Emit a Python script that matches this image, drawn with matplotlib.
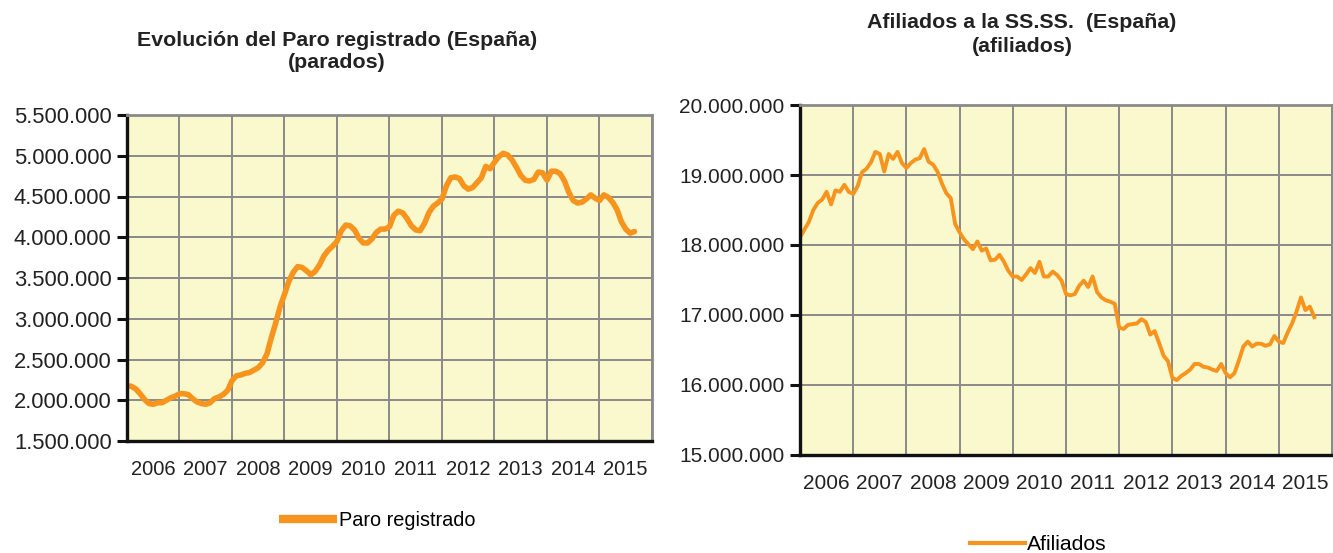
import matplotlib
matplotlib.use("Agg")
import matplotlib.pyplot as plt
from matplotlib.ticker import FuncFormatter, MultipleLocator, FixedLocator
import numpy as np

plt.rcParams['font.family'] = ['Liberation Sans', 'DejaVu Sans']

# ---- Data (monthly, Jan 2006 .. Sep 2015) ----
start_year = 2006
year_labels = ['2006', '2007', '2008', '2009', '2010', '2011', '2012', '2013', '2014', '2015']

# Paro registrado (millions)
paro_2006 = [2.18, 2.17, 2.14, 2.08, 2.01, 1.96, 1.95, 1.97, 1.97, 2.00, 2.03, 2.05]
paro_2007 = [2.08, 2.08, 2.07, 2.02, 1.98, 1.96, 1.95, 1.97, 2.02, 2.04, 2.07, 2.12]
paro_2008 = [2.24, 2.30, 2.31, 2.33, 2.34, 2.37, 2.40, 2.46, 2.57, 2.77, 2.95, 3.15]
paro_2009 = [3.30, 3.46, 3.57, 3.64, 3.63, 3.59, 3.54, 3.58, 3.66, 3.77, 3.84, 3.89]
paro_2010 = [3.95, 4.08, 4.15, 4.14, 4.09, 3.99, 3.93, 3.93, 3.98, 4.06, 4.10, 4.10]
paro_2011 = [4.13, 4.27, 4.32, 4.30, 4.23, 4.14, 4.09, 4.08, 4.17, 4.30, 4.38, 4.42]
paro_2012 = [4.47, 4.63, 4.73, 4.74, 4.72, 4.63, 4.59, 4.61, 4.67, 4.73, 4.87, 4.84]
paro_2013 = [4.92, 4.99, 5.03, 5.01, 4.95, 4.86, 4.76, 4.70, 4.69, 4.71, 4.80, 4.79]
paro_2014 = [4.70, 4.81, 4.81, 4.78, 4.69, 4.55, 4.45, 4.42, 4.43, 4.47, 4.52, 4.48]
paro_2015 = [4.45, 4.52, 4.49, 4.43, 4.34, 4.19, 4.10, 4.05, 4.07]

# Afiliados (millions)
afil_2006 = [18.11, 18.22, 18.33, 18.50, 18.60, 18.65, 18.76, 18.58, 18.78, 18.76, 18.86, 18.76]
afil_2007 = [18.73, 18.84, 19.04, 19.09, 19.18, 19.33, 19.30, 19.05, 19.30, 19.23, 19.33, 19.17]
afil_2008 = [19.10, 19.17, 19.22, 19.24, 19.37, 19.19, 19.15, 19.05, 18.88, 18.74, 18.67, 18.30]
afil_2009 = [18.18, 18.08, 18.01, 17.94, 18.05, 17.92, 17.95, 17.78, 17.79, 17.86, 17.76, 17.63]
afil_2010 = [17.55, 17.55, 17.50, 17.58, 17.67, 17.60, 17.76, 17.55, 17.55, 17.62, 17.57, 17.49]
afil_2011 = [17.30, 17.28, 17.30, 17.42, 17.49, 17.40, 17.55, 17.33, 17.25, 17.21, 17.19, 17.16]
afil_2012 = [16.82, 16.80, 16.86, 16.87, 16.88, 16.94, 16.90, 16.72, 16.77, 16.60, 16.42, 16.34]
afil_2013 = [16.10, 16.07, 16.13, 16.17, 16.22, 16.30, 16.30, 16.26, 16.25, 16.22, 16.20, 16.30]
afil_2014 = [16.17, 16.11, 16.17, 16.35, 16.55, 16.62, 16.55, 16.59, 16.59, 16.56, 16.58, 16.70]
afil_2015 = [16.62, 16.60, 16.75, 16.88, 17.05, 17.25, 17.07, 17.12, 16.97]

paro = np.array(paro_2006 + paro_2007 + paro_2008 + paro_2009 + paro_2010 +
                paro_2011 + paro_2012 + paro_2013 + paro_2014 + paro_2015) * 1e6
afil = np.array(afil_2006 + afil_2007 + afil_2008 + afil_2009 + afil_2010 +
                afil_2011 + afil_2012 + afil_2013 + afil_2014 + afil_2015) * 1e6
t_paro = start_year + np.arange(len(paro)) / 12.0
t_afil = start_year + np.arange(len(afil)) / 12.0

# ---- Styling ----
W, H = 1333, 553
BG = '#FAF8CD'
ORANGE = '#F7941E'
GRID = '#8A8A8A'
TXT = '#222222'

fmt = FuncFormatter(lambda v, p: f"{int(round(v)):,}".replace(',', '.'))

fig = plt.figure(figsize=(W / 100, H / 100), dpi=100)


def px_axes(x0, y0, x1, y1):
    return fig.add_axes([x0 / W, 1 - y1 / H, (x1 - x0) / W, (y1 - y0) / H])


def style(ax, ylim, ystep, yfs, xfs):
    ax.set_facecolor(BG)
    ax.set_xlim(2006, 2016)
    ax.set_ylim(*ylim)
    ax.xaxis.set_major_locator(MultipleLocator(1))
    ax.xaxis.set_minor_locator(FixedLocator([2006.5 + i for i in range(10)]))
    ax.xaxis.set_major_formatter(FuncFormatter(lambda v, p: ''))
    ax.xaxis.set_minor_formatter(FuncFormatter(lambda v, p: year_labels[int(v - 2006)] if 0 <= int(v - 2006) < 10 else ''))
    ax.tick_params(axis='x', which='both', length=0, labelsize=xfs, colors=TXT, pad=14)
    ax.yaxis.set_major_locator(MultipleLocator(ystep))
    ax.yaxis.set_major_formatter(fmt)
    ax.tick_params(axis='y', which='major', length=7, width=2.2, color='#111111',
                   labelsize=yfs, labelcolor=TXT, pad=4, direction='out')
    ax.grid(True, which='major', color=GRID, linewidth=1.4)
    ax.set_axisbelow(True)
    for s in ('left', 'bottom'):
        ax.spines[s].set_color('#111111')
        ax.spines[s].set_linewidth(2.4)
    for s in ('top', 'right'):
        ax.spines[s].set_color(GRID)
        ax.spines[s].set_linewidth(2.0)


# Left chart
ax1 = px_axes(127, 115, 652, 441)
style(ax1, (1500000, 5500000), 500000, 15.8, 14.5)
ax1.plot(t_paro, paro, color=ORANGE, linewidth=4.0, solid_capstyle='round',
         solid_joinstyle='round', label='Paro registrado')
fig.text(337 / W, 1 - 40 / H, 'Evolución del Paro registrado (España)', ha='center', va='center',
         fontsize=15.4, fontweight='bold', color=TXT)
fig.text(337 / W, 1 - 63 / H, '(parados)', ha='center', va='center',
         fontsize=15.4, fontweight='bold', color=TXT)
leg1 = ax1.legend(loc='center', bbox_to_anchor=(377 / W, 1 - 520 / H), bbox_transform=fig.transFigure,
                  frameon=False, fontsize=14.3, handlelength=2.9, handletextpad=0.1)
for l in leg1.get_lines():
    l.set_linewidth(6)
    l.set_solid_capstyle('butt')

# Right chart
ax2 = px_axes(800, 105, 1332, 455)
style(ax2, (15000000, 20000000), 1000000, 15, 15)
ax2.plot(t_afil, afil, color=ORANGE, linewidth=2.8, solid_joinstyle='round', label='Afiliados')
fig.text(1022 / W, 1 - 22 / H, 'Afiliados a la SS.SS.  (España)', ha='center', va='center',
         fontsize=15.4, fontweight='bold', color=TXT)
fig.text(1022 / W, 1 - 46 / H, '(afiliados)', ha='center', va='center',
         fontsize=15.4, fontweight='bold', color=TXT)
leg2 = ax2.legend(loc='center', bbox_to_anchor=(1038 / W, 1 - 545 / H), bbox_transform=fig.transFigure,
                  frameon=False, fontsize=15.2, handlelength=2.6, handletextpad=0.1)
for l in leg2.get_lines():
    l.set_linewidth(3)

fig.savefig('out.png', dpi=100, facecolor='white')
